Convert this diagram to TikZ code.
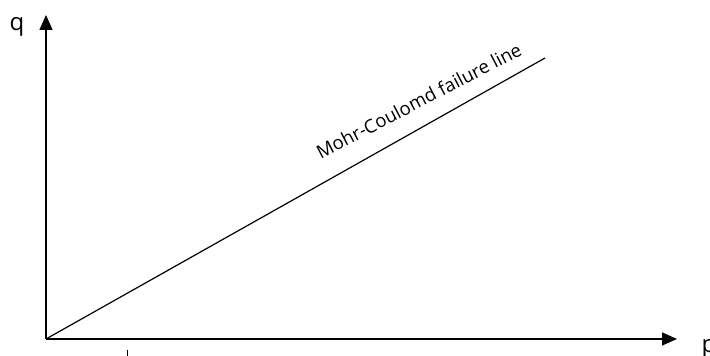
\documentclass[tikz,border=0pt]{standalone}
\usepackage{fontspec}
\setmainfont{Open Sans}
\usetikzlibrary{arrows.meta, positioning, calc}
\tikzset{
  every picture/.style={line width=1.2pt},
  axis/.style={-{Triangle[length=15pt, width=13pt]}, line width=1.5pt},
  failline/.style={line width=1.2pt},
  axlabel/.style={font=\fontsize{24}{28}\selectfont, inner sep=0pt},
  linelabel/.style={font=\fontsize{18.6}{22}\selectfont, inner sep=0pt, rotate=27.5},
}
\begin{document}
\begin{tikzpicture}[x=1pt, y=1pt]
  \useasboundingbox (0,0) rectangle (710,356);
  % axes of the p-q plot
  \coordinate (o) at (46,17);
  \coordinate (qtip) at (46,341);
  \coordinate (ptip) at (677,17);
  \draw[axis] (o) -- (qtip);
  \draw[axis] (o) -- (ptip);
  \node[axlabel, anchor=base] (q) at (17,325) {q};
  \node[axlabel, anchor=base west] (p) at (701,3) {p};
  % failure envelope
  \coordinate (fend) at (545,298);
  \draw[failline] (o) -- (fend);
  \node[linelabel, anchor=base] (mc) at (422,249) {Mohr-Coulomd failure line};
  % small tick cut at the bottom edge
  \coordinate (tk1) at (127,6);
  \coordinate (tk2) at (127,0);
  \draw[line width=1pt] (tk1) -- (tk2);
\end{tikzpicture}
\end{document}
